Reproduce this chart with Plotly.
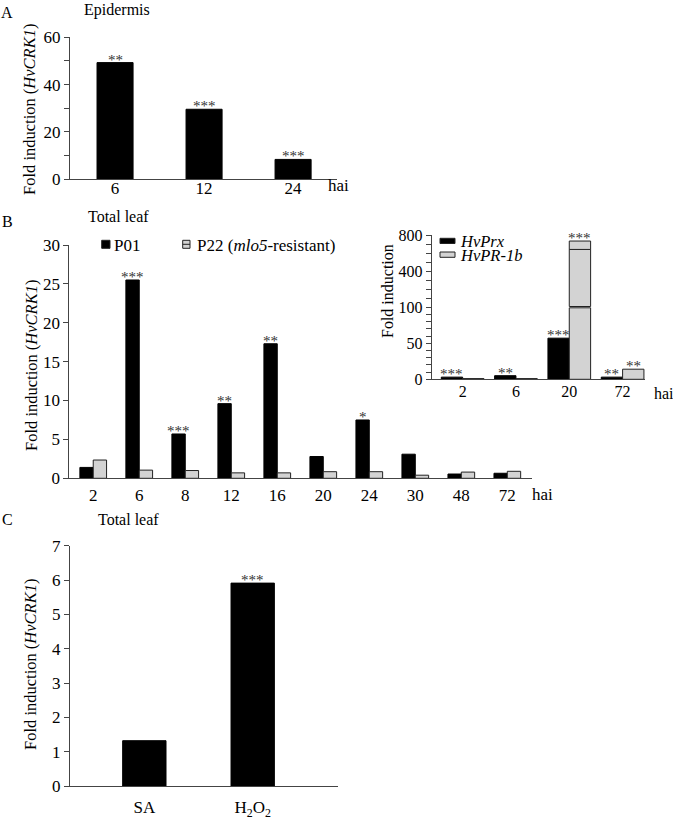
import plotly.graph_objects as go

# ---------------- data ----------------
# Panel A (Epidermis)
a_cats = ["6", "12", "24"]
a_vals = [49.3, 29.6, 8.4]
a_stars = ["**", "***", "***"]

# Panel B (Total leaf)
b_cats = ["2", "6", "8", "12", "16", "20", "24", "30", "48", "72"]
b_p01 = [1.4, 25.5, 5.7, 9.6, 17.3, 2.8, 7.5, 3.1, 0.55, 0.65]
b_p22 = [2.35, 1.05, 1.0, 0.7, 0.7, 0.85, 0.85, 0.4, 0.8, 0.9]
b_stars = ["", "***", "***", "**", "**", "", "*", "", "", ""]

# Inset (broken axis)
i_cats = ["2", "6", "20", "72"]
i_prx = [3, 5, 57, 3]
i_pr1b = [1, 1, 733, 14]
i_pr1b_line = [None, None, 640, None]
i_prx_stars = ["***", "**", "***", "**"]
i_pr1b_stars = ["", "", "***", "**"]
i_ticks = [0, 50, 100, 400, 800]
i_minor = [10, 20, 30, 40, 60, 70, 80, 90, 175, 250, 325, 500, 600, 700]

# Panel C (Total leaf)
c_cats = ["SA", "H<sub>2</sub>O<sub>2</sub>"]
c_vals = [1.32, 5.91]
c_stars = ["", "***"]

# ---------------- helpers ----------------
W, H = 673, 819
FONT = "Liberation Serif, Times New Roman, serif"
BLACK = "#000000"
GREY = "#d3d3d3"
AX = "#444444"


def X(px):
    return px / W


def Y(py):
    return 1 - py / H


def t(v):
    # broken-axis transform: 0-100 linear, 100-400 and 400-800 compressed
    if v <= 100:
        return v
    if v <= 400:
        return 100 + (v - 100) / 300 * 50
    return 150 + (v - 400) / 400 * 50


fig = go.Figure()

# ---------------- Panel A ----------------
a_x = list(range(len(a_cats)))
fig.add_trace(go.Bar(x=a_x, y=a_vals, width=0.405, marker=dict(color=BLACK, line=dict(color=BLACK, width=1)),
                     xaxis="x", yaxis="y", showlegend=False))
# ---------------- Panel B ----------------
b_x = list(range(len(b_cats)))
bw = 0.29
fig.add_trace(go.Bar(x=b_x, y=b_p01, width=bw, offset=-bw, marker=dict(color=BLACK, line=dict(color=BLACK, width=1)),
                     xaxis="x2", yaxis="y2", showlegend=False))
fig.add_trace(go.Bar(x=b_x, y=b_p22, width=bw, offset=0, marker=dict(color=GREY, line=dict(color="#222", width=1)),
                     xaxis="x2", yaxis="y2", showlegend=False))
# ---------------- Inset ----------------
i_x = list(range(len(i_cats)))
iw = 0.4
fig.add_trace(go.Bar(x=i_x, y=[t(v) for v in i_prx], width=iw, offset=-iw,
                     marker=dict(color=BLACK, line=dict(color=BLACK, width=1)),
                     xaxis="x3", yaxis="y3", showlegend=False))
px_, pbase, ph = [], [], []
gap = 0.9
for k, v in enumerate(i_pr1b):
    bounds = [0]
    if v > 100:
        bounds.append(100)
    if i_pr1b_line[k] is not None and i_pr1b_line[k] < v:
        bounds.append(i_pr1b_line[k])
    bounds.append(v)
    for j in range(len(bounds) - 1):
        lo, hi = t(bounds[j]), t(bounds[j + 1])
        if bounds[j] == 100:
            lo += gap
        if bounds[j + 1] == 100:
            hi -= gap
        px_.append(k)
        pbase.append(lo)
        ph.append(hi - lo)
fig.add_trace(go.Bar(x=px_, y=ph, base=pbase, width=iw, offset=0,
                     marker=dict(color=GREY, line=dict(color="#222", width=1)),
                     xaxis="x3", yaxis="y3", showlegend=False))
# ---------------- Panel C ----------------
c_x = list(range(len(c_cats)))
fig.add_trace(go.Bar(x=c_x, y=c_vals, width=0.4, marker=dict(color=BLACK, line=dict(color=BLACK, width=1)),
                     xaxis="x4", yaxis="y4", showlegend=False))


# ---------------- axes ----------------
def yax(domain, rng, tickvals, ticktext=None, minor=None, size=17, anchor="x"):
    d = dict(domain=domain, range=rng, showline=True, linecolor=AX, linewidth=1, ticks="outside",
             ticklen=5, tickcolor=AX, tickwidth=1, showgrid=False, zeroline=False, automargin=False,
             tickfont=dict(family=FONT, size=size, color="black"), tickmode="array", tickvals=tickvals,
             fixedrange=True, anchor=anchor)
    if ticktext is not None:
        d["ticktext"] = ticktext
    if minor is not None:
        d["minor"] = dict(tickmode="array", tickvals=minor, ticks="outside", ticklen=5, tickcolor=AX,
                          tickwidth=1, showgrid=False)
    return d


def xax(domain, rng, n, labels, anchor, size=17, standoff=0):
    return dict(domain=domain, range=rng, showline=True, linecolor=AX, linewidth=1, ticks="",
                showgrid=False, zeroline=False, tickmode="array", tickvals=list(range(n)),
                ticktext=labels, tickfont=dict(family=FONT, size=size, color="black"), anchor=anchor,
                ticklabelstandoff=standoff, fixedrange=True, automargin=False)


fig.update_layout(
    width=W, height=H, margin=dict(l=0, r=0, t=0, b=0, autoexpand=False),
    paper_bgcolor="white", plot_bgcolor="rgba(0,0,0,0)", barmode="overlay",
    xaxis=xax([X(70), X(336.7)], [-0.506, 2.49], 3, a_cats, "y", standoff=-7),
    yaxis=yax([Y(179.3), Y(37.3)], [0, 60], [0, 20, 40, 60], minor=[10, 30, 50], anchor="x"),
    xaxis2=xax([X(69.3), X(531.7)], [-0.52, 9.53], 10, b_cats, "y2", standoff=1),
    yaxis2=yax([Y(478.3), Y(245)], [0, 30], [0, 5, 10, 15, 20, 25, 30], anchor="x2"),
    xaxis3=xax([X(431.7), X(645)], [-0.58, 3.42], 4, i_cats, "y3", size=16, standoff=-3),
    yaxis3=yax([Y(379.3), Y(235)], [0, 200], [t(v) for v in i_ticks], [str(v) for v in i_ticks],
               minor=[t(v) for v in i_minor], size=16, anchor="x3"),
    xaxis4=xax([X(70), X(338.3)], [-0.686, 1.79], 2, c_cats, "y4", standoff=6),
    yaxis4=yax([Y(786), Y(545.7)], [0, 7], list(range(8)), anchor="x4"),
)

ann = []
star_font = dict(family=FONT, size=15, color="#333333")


def add_stars(xs, ys, stars, xref, yref):
    for xv, yv, s in zip(xs, ys, stars):
        if s:
            ann.append(dict(x=xv, y=yv, xref=xref, yref=yref, text=s, showarrow=False,
                            xanchor="center", yanchor="bottom", yshift=-7, font=star_font))


add_stars(a_x, a_vals, a_stars, "x", "y")
add_stars([k - bw / 2 for k in b_x], b_p01, b_stars, "x2", "y2")
add_stars([k - iw / 2 for k in i_x], [t(v) for v in i_prx], i_prx_stars, "x3", "y3")
add_stars([k + iw / 2 for k in i_x], [t(v) for v in i_pr1b], i_pr1b_stars, "x3", "y3")
add_stars(c_x, c_vals, c_stars, "x4", "y4")


def text(px, py, s, size=16, xanchor="left", angle=0):
    ann.append(dict(x=X(px), y=Y(py), xref="paper", yref="paper", text=s, showarrow=False,
                    xanchor=xanchor, yanchor="middle", textangle=angle,
                    font=dict(family=FONT, size=size, color="black")))


# panel letters and titles
text(7, 13, "A", xanchor="center")
text(82, 10, "Epidermis")
text(7.5, 222, "B", xanchor="center")
text(86, 217, "Total leaf")
text(7, 519, "C", xanchor="center")
text(96, 519, "Total leaf")

# y-axis titles
ytitle = "Fold induction (<i>HvCRK1</i>)"
text(30, 110, ytitle, size=16.5, xanchor="center", angle=-90)
text(31, 366, ytitle, size=16.5, xanchor="center", angle=-90)
text(30, 665, ytitle, size=16.5, xanchor="center", angle=-90)
text(387, 291, "Fold induction", size=16, xanchor="center", angle=-90)

# "hai" axis units
text(326, 186, "hai", size=17)
text(530, 495, "hai", size=17)
text(652, 393, "hai", size=16)

# legends
shapes = []


def swatch(x0, y0, x1, y1, fill, midline=False):
    shapes.append(dict(type="rect", xref="paper", yref="paper", x0=X(x0), x1=X(x1), y0=Y(y1), y1=Y(y0),
                       fillcolor=fill, line=dict(color="#222", width=1)))
    if midline:
        ym = (y0 + y1) / 2
        shapes.append(dict(type="line", xref="paper", yref="paper", x0=X(x0), x1=X(x1), y0=Y(ym), y1=Y(ym),
                           line=dict(color="#222", width=1)))


swatch(101.7, 240.3, 110, 248.3, BLACK)
text(112, 245, "P01", size=17)
swatch(182.7, 240.3, 190, 248.3, GREY, midline=True)
text(195, 245, "P22 (<i>mlo5</i>-resistant)", size=17)

swatch(440, 238.3, 455, 243.5, BLACK)
text(458, 241, "<i>HvPrx</i>", size=16.5)
swatch(440, 252, 455, 257.3, GREY)
text(458, 255, "<i>HvPR-1b</i>", size=16.5)

fig.update_layout(annotations=ann, shapes=shapes)
fig.write_html("out.html", config={"displayModeBar": False},
               post_script="document.body.style.margin='0';document.body.style.overflow='hidden';")
